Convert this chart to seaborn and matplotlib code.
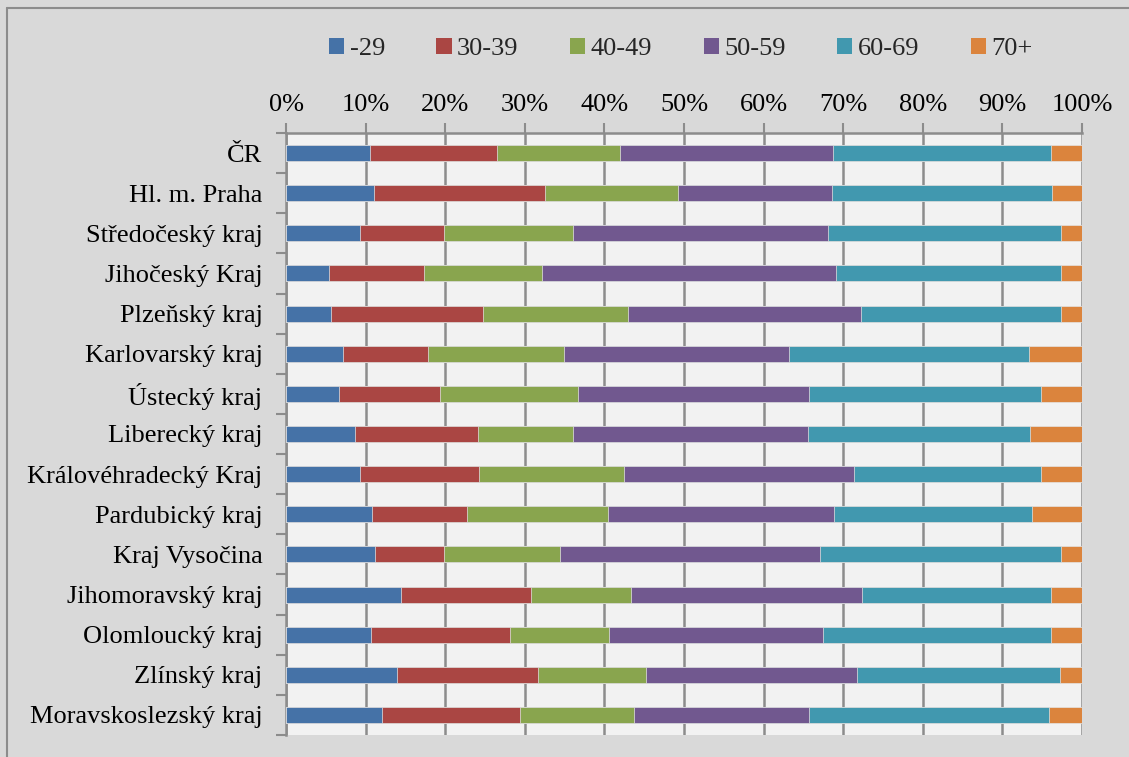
import matplotlib
matplotlib.use("Agg")
import matplotlib.pyplot as plt
import numpy as np
import pandas as pd
import seaborn as sns
from matplotlib.lines import Line2D
from matplotlib.patches import Patch

# Regions (top to bottom) and age-group shares in percent
regions = [
    "ČR", "Hl. m. Praha", "Středočeský kraj", "Jihočeský Kraj", "Plzeňský kraj",
    "Karlovarský kraj", "Ústecký kraj", "Liberecký kraj", "Královéhradecký Kraj",
    "Pardubický kraj", "Kraj Vysočina", "Jihomoravský kraj", "Olomloucký kraj",
    "Zlínský kraj", "Moravskoslezský kraj",
]
age_groups = ["-29", "30-39", "40-49", "50-59", "60-69", "70+"]

share_u29 = [10.5, 11.0, 9.3, 5.4, 5.7, 7.1, 6.7, 8.7, 9.3, 10.8, 11.2, 14.5, 10.7, 14.0, 12.0]
share_30_39 = [16.0, 21.5, 10.5, 11.9, 19.0, 10.7, 12.6, 15.4, 15.0, 12.0, 8.7, 16.3, 17.4, 17.7, 17.4]
share_40_49 = [15.4, 16.7, 16.3, 14.8, 18.3, 17.1, 17.4, 12.0, 18.1, 17.7, 14.5, 12.5, 12.5, 13.5, 14.3]
share_50_59 = [26.8, 19.4, 32.0, 37.0, 29.2, 28.3, 29.0, 29.5, 29.0, 28.4, 32.7, 29.0, 26.9, 26.5, 22.0]
share_60_69 = [27.4, 27.6, 29.3, 28.3, 25.1, 30.2, 29.1, 27.9, 23.4, 24.8, 30.3, 23.8, 28.6, 25.5, 30.1]
share_70p = [3.9, 3.8, 2.6, 2.6, 2.7, 6.6, 5.2, 6.5, 5.2, 6.3, 2.6, 3.9, 3.9, 2.8, 4.2]

colors = ["#4572a7", "#aa4643", "#89a54e", "#71588f", "#4198af", "#db843d"]

series = [share_u29, share_30_39, share_40_49, share_50_59, share_60_69, share_70p]
shares = pd.DataFrame(dict(zip(age_groups, series)), index=regions)
cumulative = shares.cumsum(axis=1)

sns.set_theme(style="white")
plt.rcParams["font.family"] = ["Liberation Serif", "DejaVu Serif"]

FS = 19
W, H = 1129, 757
fig = plt.figure(figsize=(W / 100, H / 100), dpi=100, facecolor="#d9d9d9")
ax = fig.add_axes([286 / W, 1 - 735 / H, (1082 - 286) / W, (735 - 133) / H])
ax.set_facecolor("#f2f2f2")

# Stacked bars: draw cumulative totals from the outermost group inwards
for group, color in reversed(list(zip(age_groups, colors))):
    layer = pd.DataFrame({"region": regions, "value": cumulative[group].values})
    sns.barplot(data=layer, x="value", y="region", orient="h", color=color,
                saturation=1, width=0.4, edgecolor="#e4e4e4", linewidth=0.5,
                ax=ax, zorder=3)

grid_color = "#8c8c8c"
ax.set_xlim(0, 100)
ticks = np.arange(0, 101, 10)
ax.set_xticks(ticks)
ax.set_xticklabels([f"{t}%" for t in ticks], fontsize=FS, color="black")
ax.xaxis.tick_top()
ax.tick_params(axis="x", which="major", direction="out", length=7, width=1.5,
               color=grid_color, pad=5)
ax.grid(axis="x", color=grid_color, linewidth=1.8, zorder=0)
ax.grid(axis="y", visible=False)
ax.set_axisbelow(True)

ax.set_xlabel("")
ax.set_ylabel("")
ax.set_yticks(range(len(regions)))
ax.set_yticklabels(regions, fontsize=FS, color="black")
ax.set_yticks(np.arange(-0.5, len(regions), 1), minor=True)
ax.tick_params(axis="y", which="major", length=0, pad=17)
ax.tick_params(axis="y", which="minor", direction="out", length=7, width=1.5,
               color=grid_color, left=True)
ax.set_ylim(len(regions) - 0.5, -0.5)

for side in ["top", "left"]:
    ax.spines[side].set_visible(True)
    ax.spines[side].set_color(grid_color)
    ax.spines[side].set_linewidth(1.8)
ax.spines["right"].set_visible(False)
ax.spines["bottom"].set_visible(False)

handles = [Patch(facecolor=c, edgecolor="none", label=g) for g, c in zip(age_groups, colors)]
fig.legend(handles=handles, loc="center", bbox_to_anchor=(0.603, 1 - 49 / H),
           ncol=6, frameon=False, fontsize=FS, handlelength=0.58, handleheight=0.58,
           handletextpad=0.2, columnspacing=1.95)

# Chart-area border
fig.add_artist(Line2D([7 / W, 7 / W], [0, 1 - 8 / H], transform=fig.transFigure,
                      color=grid_color, linewidth=1.5))
fig.add_artist(Line2D([7 / W, 1], [1 - 8 / H, 1 - 8 / H], transform=fig.transFigure,
                      color=grid_color, linewidth=1.5))

fig.savefig("out.png", dpi=100, facecolor=fig.get_facecolor())
